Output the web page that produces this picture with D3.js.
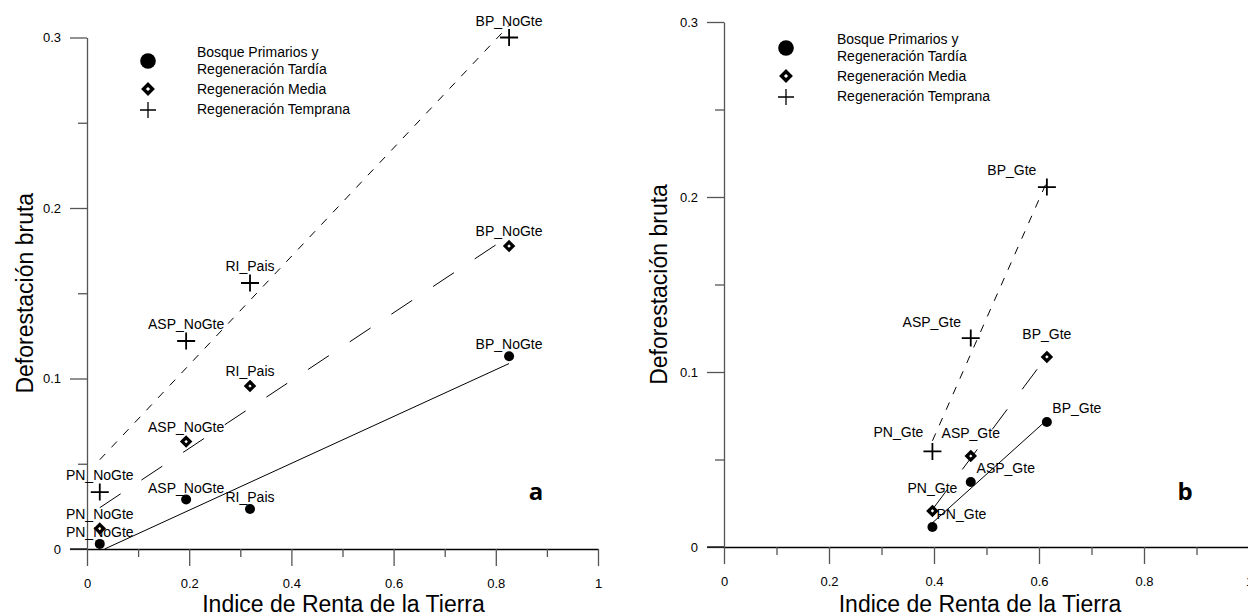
<!DOCTYPE html>
<html><head><meta charset="utf-8">
<script src="https://cdn.jsdelivr.net/npm/d3@7"></script>
<style>
body{margin:0;background:#fff;}
text{font-family:"Liberation Sans",Arial,sans-serif;fill:#000;}
</style></head>
<body><svg id="c" width="1248" height="616"></svg>
<script>
// ---------- data ----------
const sitesA = ["PN_NoGte","ASP_NoGte","RI_Pais","BP_NoGte"];
const rentaA = [0.025, 0.194, 0.319, 0.826];
const primariosA = [0.003, 0.029, 0.0235, 0.113];
const mediaA = [0.012, 0.063, 0.0956, 0.1777];
const tempranaA = [0.0334, 0.122, 0.156, 0.300];

const sitesB = ["PN_Gte","ASP_Gte","BP_Gte"];
const rentaB = [0.397, 0.470, 0.615];
const primariosB = [0.0114, 0.0371, 0.0714];
const mediaB = [0.0206, 0.052, 0.1086];
const tempranaB = [0.0546, 0.1194, 0.2057];

const legendLabels = [["Bosque Primarios y","Regeneración Tardía"],["Regeneración Media"],["Regeneración Temprana"]];
const xTickValues = [0,0.2,0.4,0.6,0.8,1];
const xTickLabels = ["0","0.2","0.4","0.6","0.8","1"];
const xMinorValues = [0.1,0.3,0.5,0.7,0.9];
const yTickValues = [0,0.1,0.2,0.3];
const yTickLabels = ["0","0.1","0.2","0.3"];
const yMinorValues = [0.05,0.15,0.25];
const xTitle = "Indice de Renta de la Tierra";
const yTitle = "Deforestación bruta";

// ---------- layout (positions, not data) ----------
const panels = [
  {key:"a", x:[87,598], y:[549,37.5], xTitleX:343.5, yTitleX:33,
   legend:{x:148,y:61,tx:197},
   labOff:{prim:sitesA.map(()=>[0,-7]), media:sitesA.map(()=>[0,-10]), temp:sitesA.map(()=>[0,-12])},
   letter:[536,500], clip0:true},
  {key:"b", x:[724,1249], y:[547,22], xTitleX:980, yTitleX:667,
   legend:{x:786,y:48,tx:837},
   labOff:{prim:[[29,-8],[35,-9],[30,-9]], media:[[0,-18],[0,-18],[0,-18]], temp:[[-34,-14],[-39,-11],[-35,-12]]},
   letter:[1185,500], clip0:true}
];
const panelData = [
  {sites:sitesA, renta:rentaA, prim:primariosA, media:mediaA, temp:tempranaA},
  {sites:sitesB, renta:rentaB, prim:primariosB, media:mediaB, temp:tempranaB}
];

const svg = d3.select("#c");
svg.append("rect").attr("width",1248).attr("height",616).attr("fill","#fff");

function ols(xs, ys){
  const mx=d3.mean(xs), my=d3.mean(ys);
  let sxy=0,sxx=0;
  xs.forEach((x,i)=>{sxy+=(x-mx)*(ys[i]-my); sxx+=(x-mx)*(x-mx);});
  const b=sxy/sxx; return {b, a:my-b*mx};
}

function drawCircle(g,cx,cy,r){ g.append("circle").attr("cx",cx).attr("cy",cy).attr("r",r).attr("fill","#000"); }
function drawDiamond(g,cx,cy,s,w){
  g.append("path").attr("d",`M${cx},${cy-s}L${cx+s},${cy}L${cx},${cy+s}L${cx-s},${cy}Z`)
   .attr("fill","#fff").attr("stroke","#000").attr("stroke-width",w).attr("stroke-linejoin","miter");
}
function drawCross(g,cx,cy,hw,hh,w){
  g.append("path").attr("d",`M${cx-hw},${cy}H${cx+hw}M${cx},${cy-hh}V${cy+hh}`)
   .attr("stroke","#000").attr("stroke-width",w).attr("fill","none");
}

panels.forEach((p,pi)=>{
  const d = panelData[pi];
  const x = d3.scaleLinear().domain([0,1]).range(p.x);
  const y = d3.scaleLinear().domain([0,0.3]).range(p.y);
  const g = svg.append("g");

  // axes
  const xAxis = g.append("g").attr("transform",`translate(0,${y(0)})`)
    .call(d3.axisBottom(x).tickValues(xTickValues).tickFormat((v,i)=>xTickLabels[i]).tickSize(17).tickSizeOuter(0).tickPadding(13));
  xAxis.select(".domain").attr("stroke","#000").attr("stroke-width",1.3);
  xAxis.selectAll(".tick line").attr("stroke","#555").attr("stroke-width",1.3);
  xAxis.selectAll("text").attr("font-size",13).attr("font-family","Liberation Sans, Arial, sans-serif");
  const xMinor = g.append("g").attr("transform",`translate(0,${y(0)})`)
    .call(d3.axisBottom(x).tickValues(xMinorValues).tickFormat("").tickSize(8).tickSizeOuter(0));
  xMinor.select(".domain").remove();
  xMinor.selectAll(".tick line").attr("stroke","#555").attr("stroke-width",1.3);

  const yAxis = g.append("g").attr("transform",`translate(${x(0)},0)`)
    .call(d3.axisLeft(y).tickValues(yTickValues).tickFormat((v,i)=>yTickLabels[i]).tickSize(17).tickSizeOuter(0).tickPadding(9));
  yAxis.select(".domain").attr("stroke","#555").attr("stroke-width",1.3);
  yAxis.selectAll(".tick line").attr("stroke","#555").attr("stroke-width",1.3);
  yAxis.selectAll("text").attr("font-size",13).attr("font-family","Liberation Sans, Arial, sans-serif");
  const yMinor = g.append("g").attr("transform",`translate(${x(0)},0)`)
    .call(d3.axisLeft(y).tickValues(yMinorValues).tickFormat("").tickSize(9).tickSizeOuter(0));
  yMinor.select(".domain").remove();
  yMinor.selectAll(".tick line").attr("stroke","#555").attr("stroke-width",1.3);
  // x-axis baseline redrawn in black on top of y tick at 0
  g.append("line").attr("x1",x(0)-17).attr("x2",x(0)).attr("y1",y(0)).attr("y2",y(0)).attr("stroke","#000").attr("stroke-width",1.3);

  // titles
  g.append("text").attr("x",p.xTitleX).attr("y",612).attr("text-anchor","middle").attr("font-size",23).text(xTitle);
  g.append("text").attr("transform",`translate(${p.yTitleX},${y(0.15)}) rotate(-90)`).attr("text-anchor","middle").attr("font-size",23).text(yTitle);

  // regression lines
  const series = [
    {vals:d.prim, dash:null},
    {vals:d.media, dash:"25,25"},
    {vals:d.temp, dash:"8,9"}
  ];
  series.forEach(s=>{
    const f = ols(d.renta, s.vals);
    let x0 = d3.min(d.renta), x1 = d3.max(d.renta);
    if (f.a + f.b*x0 < 0) x0 = -f.a/f.b;
    const ln = g.append("line").attr("x1",x(x0)).attr("y1",y(f.a+f.b*x0))
      .attr("x2",x(x1)).attr("y2",y(f.a+f.b*x1)).attr("stroke","#000").attr("stroke-width",1);
    if (s.dash) ln.attr("stroke-dasharray",s.dash);
  });

  // points and labels
  d.sites.forEach((name,i)=>{
    const px = x(d.renta[i]);
    drawCircle(g, px, y(d.prim[i]), 5);
    drawDiamond(g, px, y(d.media[i]), 4, 3.2);
    drawCross(g, px, y(d.temp[i]), 9, 8.5, 1.8);
    [["prim",d.prim],["media",d.media],["temp",d.temp]].forEach(([k,arr])=>{
      const o = p.labOff[k][i];
      g.append("text").attr("x",px+o[0]).attr("y",y(arr[i])+o[1]).attr("text-anchor","middle")
        .attr("font-size",14).text(name);
    });
  });

  // legend
  const L = p.legend;
  drawCircle(g, L.x, L.y, 7.8);
  drawDiamond(g, L.x, L.y+28, 4.5, 3.4);
  drawCross(g, L.x, L.y+49, 8, 8, 1.3);
  const ly = [[L.y-9, L.y+8],[L.y+28],[L.y+48]];
  legendLabels.forEach((lines,k)=>{
    lines.forEach((t,j)=>{
      g.append("text").attr("x",L.tx).attr("y",ly[k][j]).attr("dy","0.35em").attr("font-size",14).text(t);
    });
  });

  // panel letter
  g.append("text").attr("x",p.letter[0]).attr("y",p.letter[1]).attr("text-anchor","middle")
    .attr("font-size",24).attr("font-weight","bold").style("font-family","'Open Sans', sans-serif").text(p.key);
});
</script></body></html>
